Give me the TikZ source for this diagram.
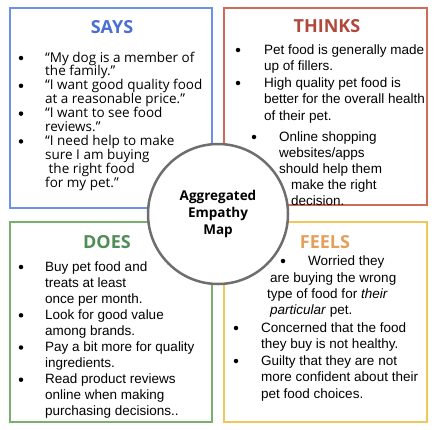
\documentclass[tikz,border=0pt]{standalone}
\usepackage{fontspec}
\setmainfont{Liberation Sans}
\newfontfamily\opensans{Open Sans}
\definecolor{saysblue}{RGB}{109,145,235}
\definecolor{saystitle}{RGB}{74,110,210}
\definecolor{thinksred}{RGB}{208,106,90}
\definecolor{thinkstitle}{RGB}{176,72,60}
\definecolor{doesgreen}{RGB}{120,176,110}
\definecolor{doestitle}{RGB}{80,140,85}
\definecolor{feelsyellow}{RGB}{240,200,90}
\definecolor{feelstitle}{RGB}{228,160,90}
\definecolor{ringgray}{RGB}{110,110,110}
\begin{document}
\begin{tikzpicture}[x=1pt,y=-1pt,
  box/.style={draw, line width=2pt, inner sep=0pt},
  heading/.style={inner sep=0pt, font=\opensans\bfseries\fontsize{18}{22}\selectfont},
  txt/.style={anchor=base west, inner sep=0pt, font=\fontsize{13.5}{16}\selectfont},
  saystxt/.style={txt, font=\opensans\fontsize{13.5}{16}\selectfont},
  dot/.style={circle, fill=black, inner sep=0pt, minimum size=4.5pt}]
\useasboundingbox (0,0) rectangle (435,429);

\node[box, draw=saysblue, minimum width=202pt, minimum height=200pt] (says) at (111,108) {};
\node[box, draw=thinksred, minimum width=203pt, minimum height=197pt] (thinks) at (325.5,106.5) {};
\node[box, draw=doesgreen, minimum width=202pt, minimum height=200pt] (does) at (111,322) {};
\node[box, draw=feelsyellow, minimum width=203pt, minimum height=200pt] (feels) at (325.5,322) {};

\node[heading, text=saystitle] (saystitle) at (112,27) {SAYS};
\node[heading, text=thinkstitle] (thinkstitle) at (327,26) {THINKS};
\node[heading, text=doestitle] (doestitle) at (107,242) {DOES};
\node[heading, text=feelstitle] (feelstitle) at (325,242) {FEELS};

\foreach \t [count=\i from 0] in {{“My dog is a member of}, {the family.”}, {“I want good quality food}, {at a reasonable price.”}, {“I want to see food}, {reviews.”}, {“I need help to make}, {sure I am buying}, {\ the right food}, {for my pet.”}}
  \node[saystxt] (says\i) at ({45}, {62+13.9*\i}) {\t};
\foreach \i in {0,2,4,6}
  \node[dot] (saysdot\i) at ({21}, {58+13.9*\i}) {};

\foreach \t [count=\i from 0] in {Pet food is generally made, up of fillers., High quality pet food is, better for the overall health, of their pet.}
  \node[txt] (thinks\i) at ({264}, {54+16.5*\i}) {\t};
\foreach \t [count=\i from 5] in {Online shopping, websites/apps, should help them}
  \node[txt] (thinks\i) at ({279}, {141+16.2*(\i-5)}) {\t};
\node[txt] (thinks8) at (291,189.6) {make the right};
\node[txt] (thinks9) at (291,205.8) {decision.};
\node[dot] (thinksdot0) at (238,50) {};
\node[dot] (thinksdot2) at (238,83) {};
\node[dot] (thinksdot5) at (254,137) {};

\foreach \t [count=\i from 0] in {Buy pet food and, treats at least, once per month., Look for good value, among brands., Pay a bit more for quality, ingredients., Read product reviews, online when making, {purchasing decisions..}}
  \node[txt] (does\i) at ({45}, {271+16.1*\i}) {\t};
\foreach \i in {0,3,5,7}
  \node[dot] (doesdot\i) at ({21}, {267+16.1*\i}) {};

\node[txt] (feels0) at (308,265) {Worried they};
\node[txt] (feels1) at (270,282) {are buying the wrong};
\node[txt] (feels2) at (267,298) {type of food for \textit{their}};
\node[txt] (feels3) at (270,314) {\textit{particular} pet.};
\foreach \t [count=\i from 4] in {Concerned that the food, they buy is not healthy., Guilty that they are not, more confident about their, pet food choices.}
  \node[txt] (feels\i) at ({261}, {332+16.6*(\i-4)}) {\t};
\node[dot] (feelsdot0) at (283,261) {};
\node[dot] (feelsdot4) at (236,328) {};
\node[dot] (feelsdot6) at (236,361) {};

\node[circle, draw=ringgray, line width=2.5pt, fill=white, minimum size=140pt, inner sep=0pt] (hub) at (218,214) {};
\node[align=center, inner sep=0pt, font=\opensans\bfseries\fontsize{13.5}{17}\selectfont] (hubtext) at (hub) {Aggregated\\Empathy\\Map};
\end{tikzpicture}
\end{document}
